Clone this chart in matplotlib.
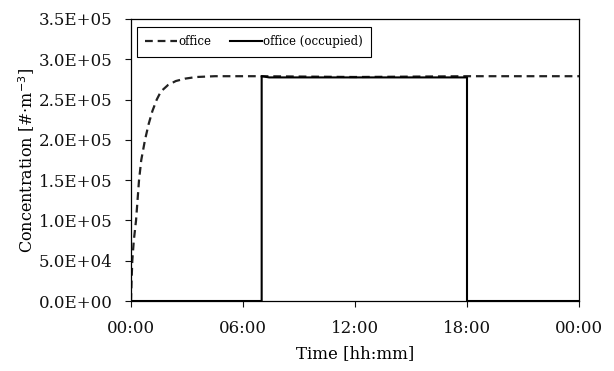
import numpy as np
import matplotlib
matplotlib.use("Agg")
import matplotlib.pyplot as plt
from matplotlib.ticker import FuncFormatter

# time in hours, concentration in #/m3
officeTime = [0, 0.03, 0.07, 0.15, 0.27, 0.35, 0.43, 0.55, 0.75, 0.95, 1.15, 1.38,
              1.6, 1.98, 2.4, 2.9, 3.5, 4.5, 6.0, 7.0, 12.0, 18.0, 21.0, 24.0]
officeConc = [0, 2.5e4, 5.0e4, 7.5e4, 1.0e5, 1.25e5, 1.5e5, 1.75e5, 2.0e5, 2.2e5, 2.36e5, 2.5e5,
              2.6e5, 2.68e5, 2.73e5, 2.76e5, 2.78e5, 2.79e5, 2.79e5,
              2.79e5, 2.78e5, 2.79e5, 2.79e5, 2.79e5]

occupiedTime = [0, 7.0, 7.0, 7.4, 12.0, 18.0, 18.0, 24.0]
occupiedConc = [0, 0, 2.79e5, 2.775e5, 2.775e5, 2.775e5, 0, 0]

xTicks = [0, 6, 12, 18, 24]
xTickLabels = ['00:00', '06:00', '12:00', '18:00', '00:00']
yTicks = np.arange(0, 3.51e5, 0.5e5)

plt.rcParams['font.family'] = ['DejaVu Serif']

fig = plt.figure(figsize=(6.14, 3.71), dpi=100)
ax = fig.add_axes([131/614, 70/371, 448/614, 282/371])

ax.plot(officeTime, officeConc, color='#222222', linestyle=(0, (3.5, 2.2)), linewidth=1.6,
        label='office', zorder=2)
ax.plot(occupiedTime, occupiedConc, color='black', linestyle='-', linewidth=1.5,
        label='office (occupied)', zorder=3)

ax.set_xlim(0, 24)
ax.set_ylim(0, 3.5e5)
ax.set_xticks(xTicks)
ax.set_xticklabels(xTickLabels)
ax.set_yticks(yTicks)
ax.yaxis.set_major_formatter(FuncFormatter(lambda v, p: ('%.1E' % v)))
ax.tick_params(direction='out', length=4.5, width=0.8, labelsize=12, pad=9, colors='#111111')
for s in ax.spines.values():
    s.set_linewidth(0.9)

ax.set_xlabel('Time [hh:mm]', fontsize=12, labelpad=6)
ax.set_ylabel(r'Concentration [#$\cdot$m$^{-3}$]', fontsize=11.5, labelpad=1)

leg = ax.legend(loc='upper left', ncol=2, fontsize=8.5, frameon=True, fancybox=False,
                edgecolor='black', framealpha=1, handlelength=2.7, handletextpad=0.1,
                columnspacing=1.6, borderpad=0.7, borderaxespad=0,
                bbox_to_anchor=(137/614, 1 - 27/371), bbox_transform=fig.transFigure)
leg.get_frame().set_linewidth(0.8)

plt.savefig('out.png', dpi=100)
